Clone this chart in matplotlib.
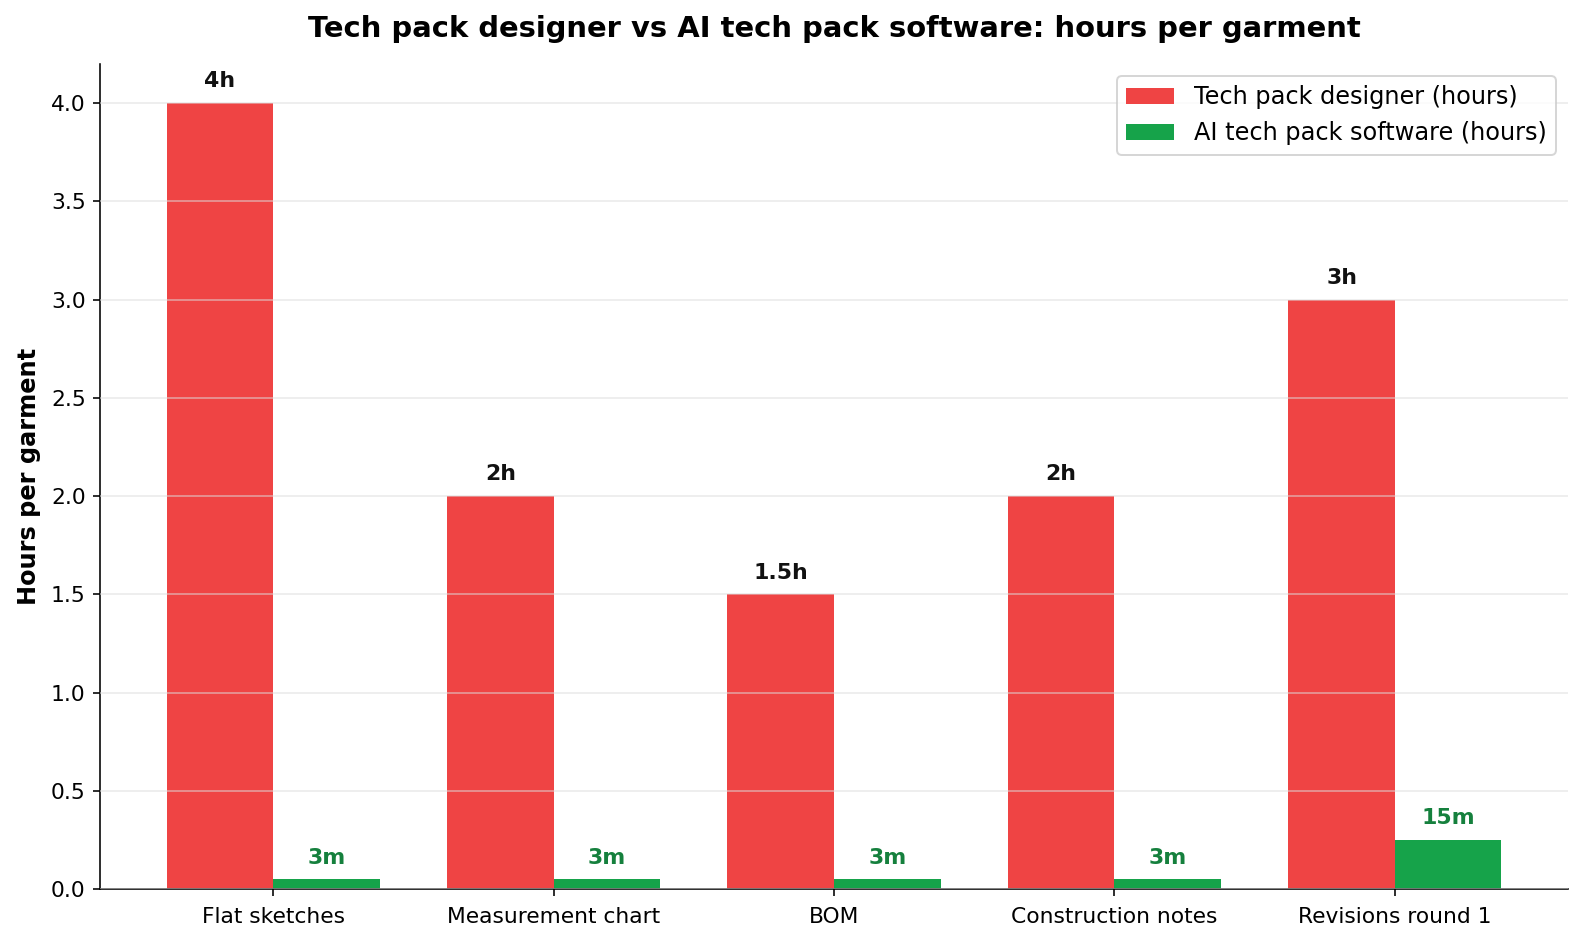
import matplotlib
matplotlib.use("Agg")
import matplotlib.pyplot as plt
import numpy as np

categories = ["Flat sketches", "Measurement chart", "BOM", "Construction notes", "Revisions round 1"]
designer_hours = [4, 2, 1.5, 2, 3]
ai_hours = [0.05, 0.05, 0.05, 0.05, 0.25]
designer_labels = ["4h", "2h", "1.5h", "2h", "3h"]
ai_labels = ["3m", "3m", "3m", "3m", "15m"]

fig, ax = plt.subplots(figsize=(11, 944/144), dpi=144)
fig.subplots_adjust(left=0.063, right=0.99, top=0.9325, bottom=0.058)

x = np.arange(len(categories))
w = 0.38
ax.bar(x - w/2, designer_hours, w, color="#ef4444", label="Tech pack designer (hours)")
ax.bar(x + w/2, ai_hours, w, color="#16a34a", label="AI tech pack software (hours)")

for xi, v, t in zip(x, designer_hours, designer_labels):
    ax.text(xi - w/2, v + 0.06, t, ha="center", va="bottom", fontsize=11, fontweight="bold", color="#111111")
for xi, v, t in zip(x, ai_hours, ai_labels):
    ax.text(xi + w/2, v + 0.06, t, ha="center", va="bottom", fontsize=11, fontweight="bold", color="#15803d")

ax.set_xticks(x)
ax.set_xticklabels(categories, fontsize=10.9)
ax.tick_params(axis="y", labelsize=10.9)
ax.tick_params(axis="x", pad=5.5)
ax.set_ylim(0, 4.2)
ax.set_ylabel("Hours per garment", fontsize=12, fontweight="bold", labelpad=5)
ax.set_title("Tech pack designer vs AI tech pack software: hours per garment", fontsize=14.5, fontweight="bold", pad=13.5)
ax.yaxis.grid(True, color="#dddddd", alpha=0.6, linewidth=0.8)
ax.set_axisbelow(False)
ax.spines["top"].set_visible(False)
ax.spines["right"].set_visible(False)
ax.legend(loc="upper right", fontsize=12)

fig.savefig("out.png", dpi=144)
